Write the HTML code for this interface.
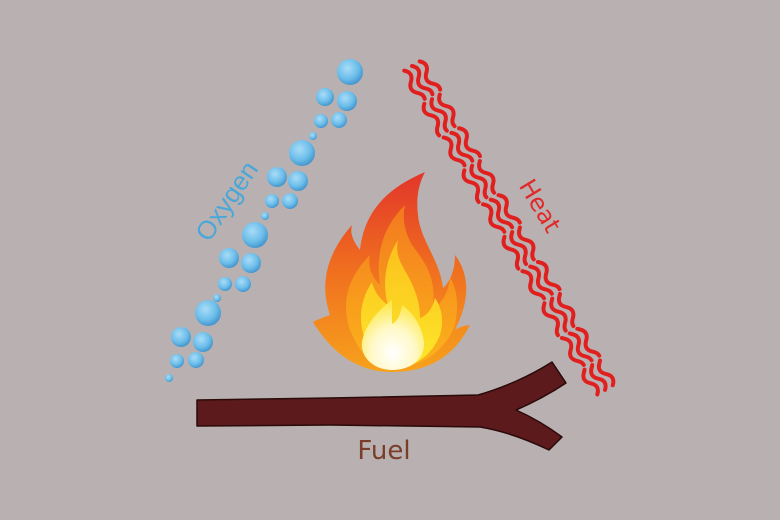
<!DOCTYPE html>
<html><head><meta charset="utf-8"><style>
html,body{margin:0;padding:0;background:#b9b1b1;}
svg{display:block}
</style></head><body>
<svg width="780" height="520" viewBox="0 0 780 520" xmlns="http://www.w3.org/2000/svg">
<defs>
<radialGradient id="bub" cx="0.4" cy="0.35" r="0.7">
<stop offset="0" stop-color="#a9dcf7"/><stop offset="0.6" stop-color="#6bbdea"/><stop offset="1" stop-color="#3f8fc8"/>
</radialGradient>
<linearGradient id="f1" x1="0" y1="0" x2="0" y2="1">
<stop offset="0" stop-color="#e2352a"/><stop offset="0.5" stop-color="#f0701f"/><stop offset="1" stop-color="#f7a21c"/>
</linearGradient>
<linearGradient id="f2" x1="0" y1="0" x2="0" y2="1">
<stop offset="0" stop-color="#f3781f"/><stop offset="1" stop-color="#fbb51a"/>
</linearGradient>
<linearGradient id="f3" x1="0" y1="0" x2="0" y2="1">
<stop offset="0" stop-color="#fbbf1c"/><stop offset="1" stop-color="#fde82a"/>
</linearGradient>
<radialGradient id="f4" cx="0.5" cy="0.75" r="0.7">
<stop offset="0" stop-color="#ffffff"/><stop offset="0.5" stop-color="#fff9c8"/><stop offset="1" stop-color="#fde84a"/>
</radialGradient>
<path id="wave" d="M0,0 q6.5,-7 13,0 t13,0 t13,0 t13,0 t13,0 t13,0 t13,0 t13,0 t13,0 t13,0 t13,0 t13,0 t13,0 t13,0 t13,0 t13,0 t13,0 t13,0 t13,0 t13,0 t13,0 t13,0 t13,0 t13,0 t13,0 t13,0 t13,0 t13,0 t13,0"/>
</defs>

<!-- bubbles -->
<g fill="url(#bub)">
<circle cx="350" cy="72" r="13"/><circle cx="325" cy="97" r="9"/><circle cx="347" cy="101" r="10"/>
<circle cx="321" cy="121" r="7"/><circle cx="339" cy="120" r="8"/><circle cx="313" cy="136" r="4"/>
<circle cx="302" cy="153" r="13"/><circle cx="277" cy="177" r="10"/><circle cx="298" cy="181" r="10"/>
<circle cx="272" cy="201" r="7"/><circle cx="290" cy="201" r="8"/><circle cx="265" cy="216" r="4"/>
<circle cx="255" cy="235" r="13"/><circle cx="229" cy="258" r="10"/><circle cx="251" cy="263" r="10"/>
<circle cx="225" cy="284" r="7"/><circle cx="243" cy="284" r="8"/><circle cx="217" cy="298" r="4"/>
<circle cx="208" cy="313" r="13"/><circle cx="181" cy="337" r="10"/><circle cx="203" cy="342" r="10"/>
<circle cx="177" cy="361" r="7"/><circle cx="196" cy="360" r="8"/><circle cx="169" cy="378" r="4"/>
</g>
<text x="0" y="0" transform="translate(234,206) rotate(-56)" text-anchor="middle" font-family="'Liberation Sans',sans-serif" font-size="26" fill="#4aa7d8">Oxygen</text>

<!-- heat -->
<g transform="translate(412,66) rotate(59.2)" fill="none" stroke="#e01f1f" stroke-width="4" stroke-linecap="round" stroke-dasharray="40 5">
<use href="#wave" y="-9"/><use href="#wave" y="0"/><use href="#wave" y="9"/>
</g>
<text transform="translate(533,210) rotate(59)" text-anchor="middle" font-family="'DejaVu Sans','Liberation Sans',sans-serif" font-size="24" fill="#e02a2a">Heat</text>

<!-- flame -->
<path d="M425,172 C395,185 365,205 360,250 C352,240 350,232 352,225 C330,250 318,280 330,315 C322,318 316,320 313,322 C330,350 355,372 392,372 C430,372 455,355 470,325 C462,326 458,328 455,330 C470,300 470,275 455,255 C455,270 450,282 443,288 C440,260 420,240 418,215 C416,200 418,185 425,172 Z" fill="url(#f1)"/>
<path d="M405,205 C385,225 375,250 380,285 C370,275 368,265 370,255 C350,275 340,300 350,330 C360,355 375,368 392,368 C420,368 445,352 455,325 C460,300 455,285 450,278 C448,295 440,305 432,310 C438,280 425,262 412,245 C405,232 402,220 405,205 Z" fill="url(#f2)"/>
<path d="M398,240 C385,260 382,285 388,305 C378,298 374,290 372,282 C360,300 358,320 365,340 C372,360 382,368 392,368 C415,368 432,355 440,335 C445,318 440,305 435,298 C432,310 426,316 420,318 C420,295 410,280 402,265 C398,258 396,250 398,240 Z" fill="url(#f3)"/>
<path d="M392,300 C378,310 365,325 362,342 C360,358 375,370 392,370 C412,370 425,358 424,342 C422,325 412,312 402,305 C400,318 396,322 392,324 Z" fill="url(#f4)"/>

<!-- log -->
<path d="M197,400 L330,398 L478,395 C503,388 530,376 552,362 L566,383 C548,395 530,404 516,410 C534,418 550,428 562,437 L549,450 C530,441 505,431 480,427 L330,425 L197,426 Z" fill="#5c1a1c" stroke="#2a0a0a" stroke-width="1.5" stroke-linejoin="round"/>
<text x="384" y="459" text-anchor="middle" font-family="'DejaVu Sans','Liberation Sans',sans-serif" font-size="26" fill="#7a3d2a">Fuel</text>
</svg>
</body></html>
